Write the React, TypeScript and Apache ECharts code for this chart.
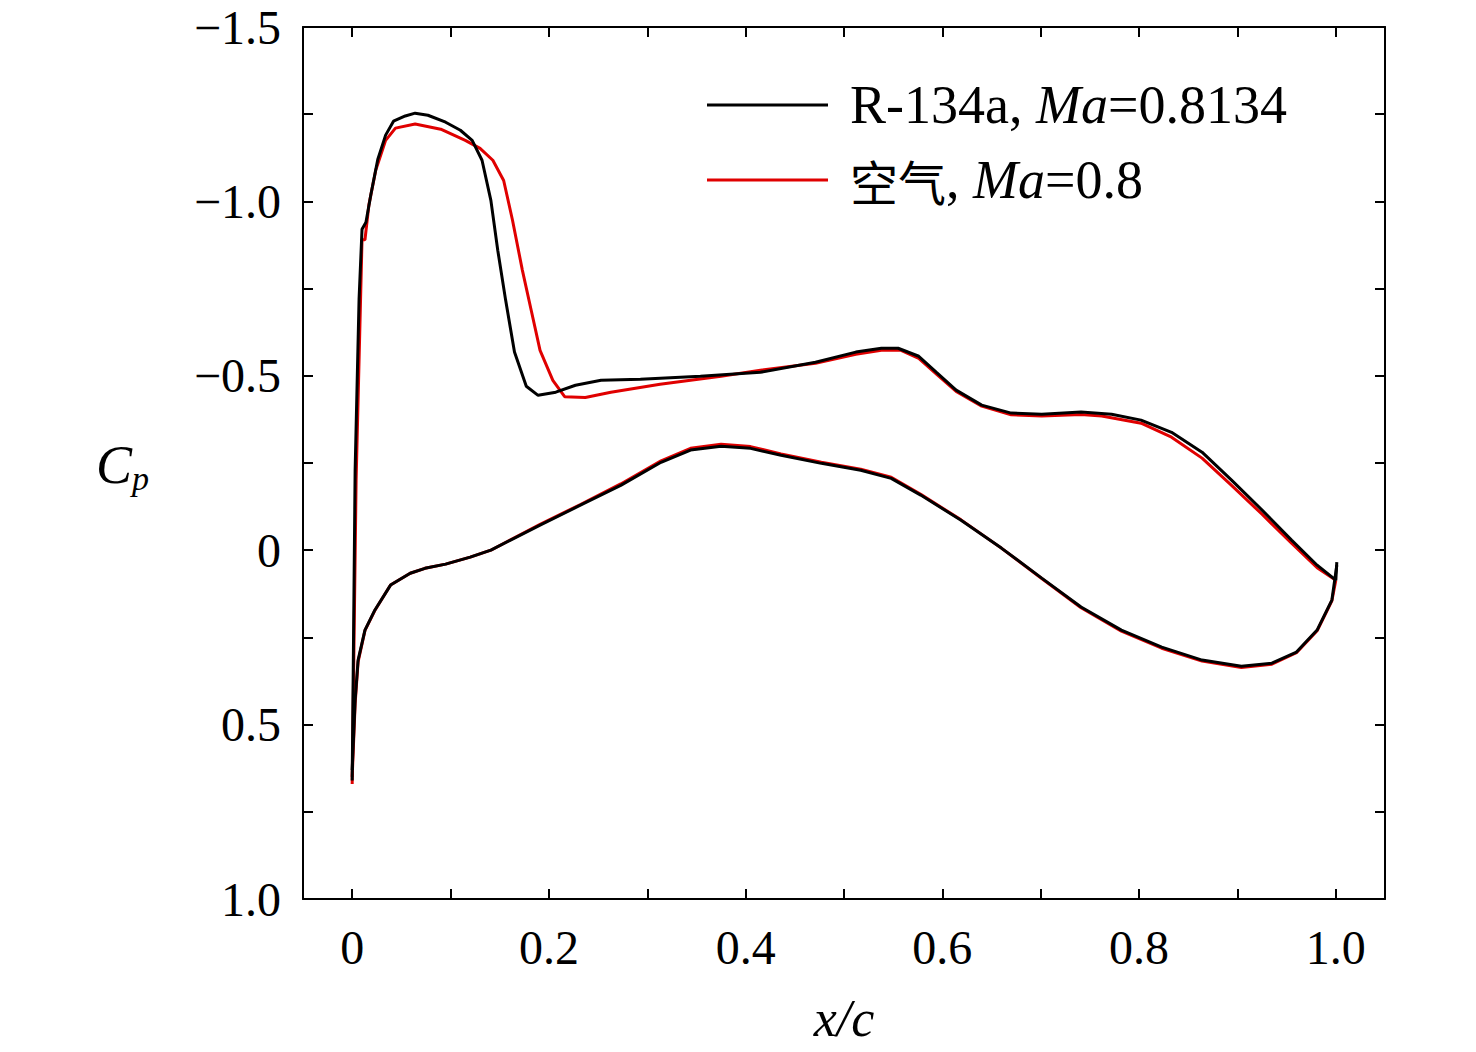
import React, { useEffect, useRef } from "react";
import * as echarts from "echarts";

const r134aUpper: [number, number][] = [
  [0, 0.66], [0.003, -0.23], [0.007, -0.72], [0.010, -0.92], [0.014, -0.94], [0.019, -1.02], [0.026, -1.12],
  [0.034, -1.19], [0.042, -1.23], [0.054, -1.245], [0.064, -1.253], [0.077, -1.247], [0.095, -1.227],
  [0.110, -1.204], [0.122, -1.175], [0.132, -1.118], [0.141, -1.003], [0.148, -0.86], [0.156, -0.717],
  [0.165, -0.568], [0.177, -0.47], [0.189, -0.444], [0.207, -0.453], [0.227, -0.473], [0.253, -0.487],
  [0.293, -0.49], [0.354, -0.499], [0.415, -0.51], [0.471, -0.539], [0.512, -0.568], [0.538, -0.579],
  [0.555, -0.579], [0.576, -0.556], [0.594, -0.51], [0.614, -0.459], [0.640, -0.416], [0.670, -0.393],
  [0.701, -0.39], [0.741, -0.396], [0.772, -0.39], [0.802, -0.373], [0.833, -0.338], [0.864, -0.281],
  [0.894, -0.201], [0.925, -0.115], [0.955, -0.029], [0.981, 0.043], [1.0, 0.086], [1.001, 0.034],
];
const r134aLower: [number, number][] = [
  [0, 0.63], [0.003, 0.43], [0.006, 0.315], [0.013, 0.229], [0.023, 0.172], [0.039, 0.1], [0.059, 0.066],
  [0.074, 0.052], [0.095, 0.04], [0.12, 0.02], [0.141, 0], [0.161, -0.029], [0.191, -0.072], [0.232, -0.129],
  [0.273, -0.186], [0.314, -0.252], [0.344, -0.287], [0.375, -0.298], [0.405, -0.292], [0.436, -0.272],
  [0.477, -0.249], [0.517, -0.229], [0.548, -0.206], [0.578, -0.158], [0.619, -0.086], [0.66, -0.006],
  [0.701, 0.08], [0.741, 0.163], [0.782, 0.229], [0.823, 0.278], [0.864, 0.315], [0.904, 0.333],
  [0.935, 0.324], [0.96, 0.292], [0.981, 0.229], [0.996, 0.143], [1.001, 0.043],
];
const airUpper: [number, number][] = [
  [0, 0.67], [0.004, -0.2], [0.010, -0.89], [0.013, -0.89], [0.017, -0.99], [0.024, -1.09], [0.034, -1.175],
  [0.044, -1.21], [0.064, -1.222], [0.09, -1.207], [0.115, -1.175], [0.13, -1.152], [0.143, -1.118],
  [0.154, -1.06], [0.163, -0.946], [0.173, -0.803], [0.182, -0.688], [0.191, -0.573], [0.204, -0.487],
  [0.216, -0.44], [0.237, -0.438], [0.263, -0.453], [0.313, -0.476], [0.375, -0.499], [0.415, -0.516],
  [0.471, -0.536], [0.512, -0.562], [0.538, -0.573], [0.558, -0.573], [0.576, -0.55], [0.594, -0.505],
  [0.614, -0.455], [0.64, -0.413], [0.67, -0.388], [0.701, -0.385], [0.741, -0.389], [0.762, -0.385],
  [0.802, -0.364], [0.833, -0.324], [0.864, -0.264], [0.894, -0.186], [0.925, -0.103], [0.955, -0.02],
  [0.981, 0.05], [1.0, 0.086],
];
const airLower: [number, number][] = [
  [0, 0.65], [0.003, 0.44], [0.006, 0.32], [0.013, 0.23], [0.023, 0.173], [0.039, 0.1], [0.059, 0.066],
  [0.074, 0.052], [0.095, 0.04], [0.12, 0.02], [0.141, 0], [0.161, -0.03], [0.191, -0.074], [0.232, -0.131],
  [0.273, -0.19], [0.314, -0.256], [0.344, -0.292], [0.375, -0.304], [0.405, -0.297], [0.436, -0.276],
  [0.477, -0.252], [0.517, -0.232], [0.548, -0.209], [0.578, -0.16], [0.619, -0.087], [0.66, -0.006],
  [0.701, 0.081], [0.741, 0.165], [0.782, 0.232], [0.823, 0.281], [0.864, 0.318], [0.904, 0.336],
  [0.935, 0.327], [0.96, 0.294], [0.981, 0.231], [0.996, 0.145], [1.0, 0.086],
];
const xTicks = [0, 0.1, 0.2, 0.3, 0.4, 0.5, 0.6, 0.7, 0.8, 0.9, 1.0];
const xLabels = [0, 0.2, 0.4, 0.6, 0.8, 1.0];
const yTicks = [-1.5, -1.25, -1.0, -0.75, -0.5, -0.25, 0, 0.25, 0.5, 0.75, 1.0];
const yLabels = [-1.5, -1.0, -0.5, 0, 0.5, 1.0];

const FONT = "'Liberation Serif', 'Times New Roman', serif";
const fmt = (v: number) => (v === 0 ? "0" : (v < 0 ? "\u2212" : "") + Math.abs(v).toFixed(1));

export default function App() {
  const ref = useRef<HTMLDivElement>(null);
  useEffect(() => {
    document.body.style.margin = "0";
    const chart = echarts.init(ref.current!, null, { renderer: "svg" });
    const axisCommon = {
      type: "value" as const,
      axisLine: { show: true, onZero: false, lineStyle: { color: "#000", width: 2 } },
      splitLine: { show: false },
    };
    const xa = (pos: string, labels: boolean) => ({
      ...axisCommon, position: pos, min: -0.05, max: 1.05,
      axisTick: { show: true, inside: true, length: 10, customValues: xTicks, lineStyle: { color: "#000", width: 2 } },
      axisLabel: { show: labels, customValues: xLabels, formatter: fmt, color: "#000", fontFamily: FONT, fontSize: 48, margin: 24 },
    });
    const ya = (pos: string, labels: boolean) => ({
      ...axisCommon, position: pos, min: -1.5, max: 1.0, inverse: true,
      axisTick: { show: true, inside: true, length: 10, customValues: yTicks, lineStyle: { color: "#000", width: 2 } },
      axisLabel: { show: labels, customValues: yLabels, formatter: fmt, color: "#000", fontFamily: FONT, fontSize: 48, margin: 22 },
    });
    const line = (data: [number, number][], color: string) => ({
      type: "line", data, showSymbol: false, symbol: "none", xAxisIndex: 0, yAxisIndex: 0,
      lineStyle: { color, width: 3 }, z: color === "#000" ? 3 : 2,
    });
    chart.setOption({
      animation: false,
      grid: { left: 303, top: 27, width: 1082, height: 872 },
      xAxis: [xa("bottom", true), xa("top", false)],
      yAxis: [ya("left", true), ya("right", false)],
      series: [
        line(airUpper, "#e00000"), line(airLower, "#e00000"),
        line(r134aUpper, "#000"), line(r134aLower, "#000"),
      ],
      graphic: [
        { type: "line", shape: { x1: 707, y1: 105, x2: 828, y2: 105 }, style: { stroke: "#000", lineWidth: 3 } },
        { type: "line", shape: { x1: 707, y1: 180, x2: 828, y2: 180 }, style: { stroke: "#e00000", lineWidth: 3 } },
        {
          type: "text", x: 850, y: 105,
          style: {
            text: "{n|R-134a, }{i|Ma}{n|=0.8134}", verticalAlign: "middle",
            rich: { n: { fontFamily: FONT, fontSize: 54, fill: "#000" }, i: { fontFamily: FONT, fontSize: 54, fontStyle: "italic", fill: "#000" } },
          },
        },
        {
          type: "text", x: 850, y: 180,
          style: {
            text: "{c|空气}{n|, }{i|Ma}{n|=0.8}", verticalAlign: "middle",
            rich: {
              c: { fontFamily: "'Noto Sans CJK SC', sans-serif", fontSize: 48, fill: "#000" },
              n: { fontFamily: FONT, fontSize: 54, fill: "#000" },
              i: { fontFamily: FONT, fontSize: 54, fontStyle: "italic", fill: "#000" },
            },
          },
        },
        {
          type: "text", x: 844, y: 1018,
          style: { text: "x/c", fontFamily: FONT, fontSize: 52, fontStyle: "italic", fill: "#000", align: "center", verticalAlign: "middle" },
        },
        {
          type: "text", x: 96, y: 465,
          style: {
            text: "{c|C}{p|p}", verticalAlign: "middle",
            rich: {
              c: { fontFamily: FONT, fontSize: 54, fontStyle: "italic", fill: "#000" },
              p: { fontFamily: FONT, fontSize: 34, fontStyle: "italic", fill: "#000", padding: [26, 0, 0, 0] },
            },
          },
        },
      ],
    });
    return () => chart.dispose();
  }, []);
  return <div ref={ref} style={{ width: 1476, height: 1052 }} />;
}
